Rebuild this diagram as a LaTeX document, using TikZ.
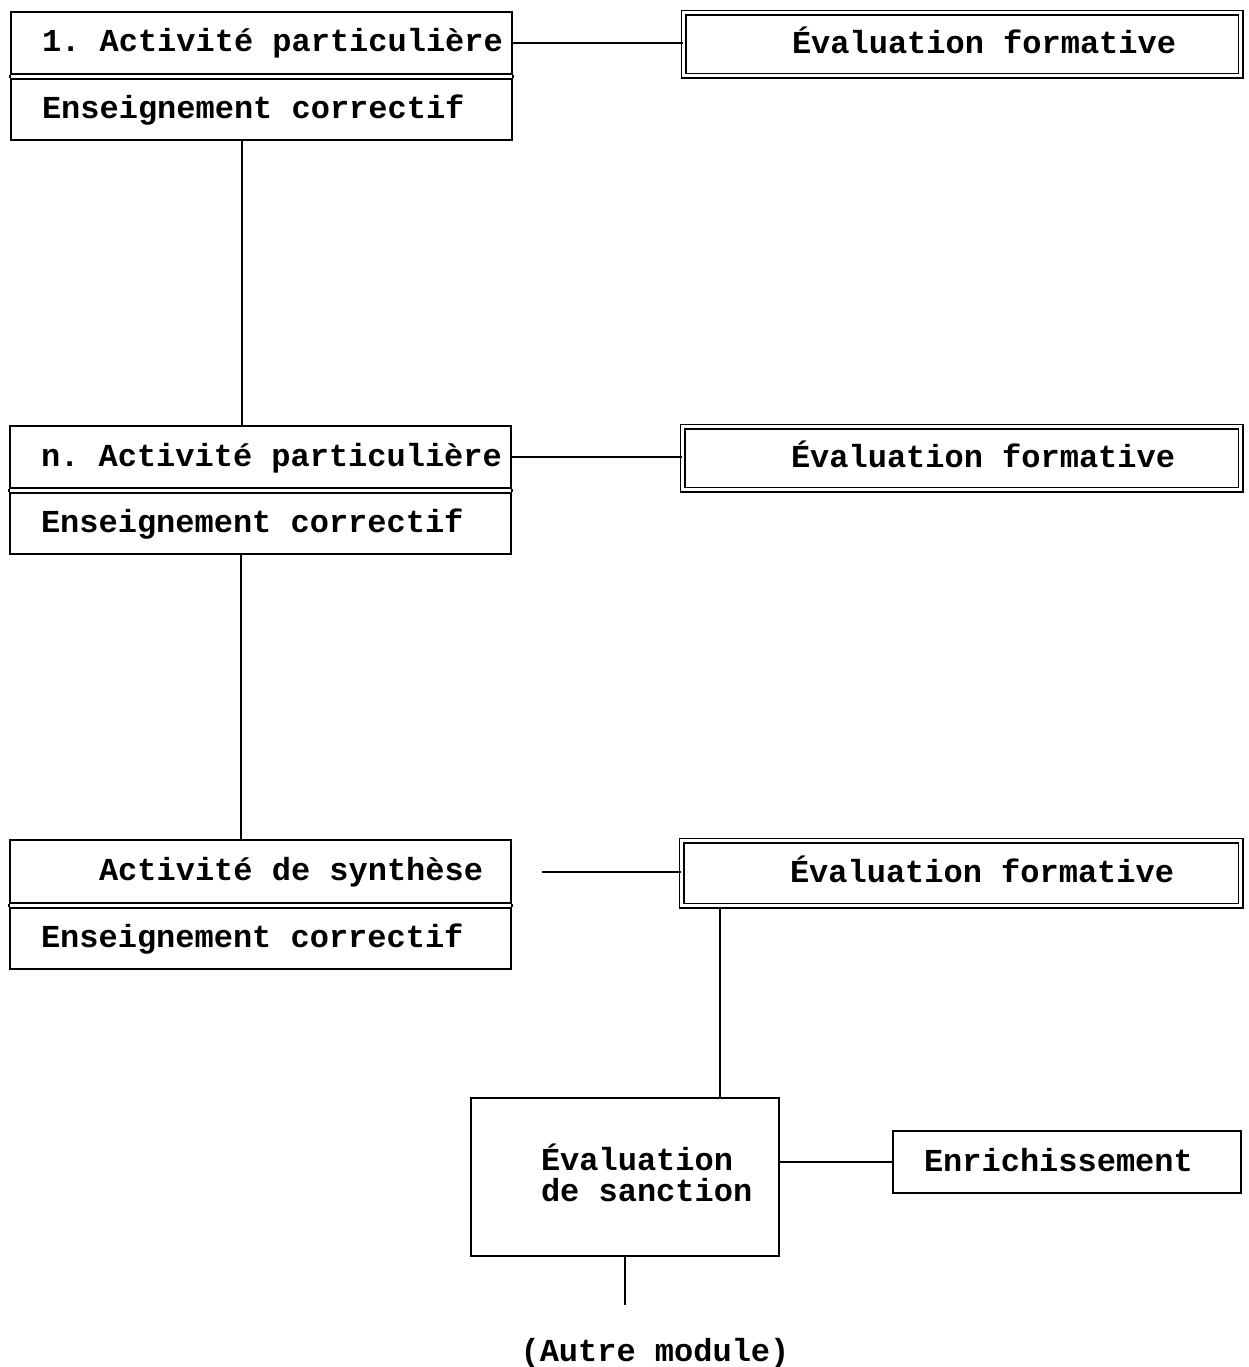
\documentclass[tikz,border=0pt]{standalone}
\usepackage{fontspec}
\setmainfont{Liberation Mono}
\usetikzlibrary{positioning}

\begin{document}
\frenchspacing
\begin{tikzpicture}[x=1pt, y=-1pt, line width=2pt,
    box/.style={draw, anchor=north west, minimum width=501pt, inner sep=0pt},
    dbox/.style={draw, double, double distance=2.6pt, line width=1.5pt, anchor=north west, inner sep=0pt},
    txt/.style={inner sep=0pt, font=\fontsize{32}{31}\selectfont\bfseries, align=left},
    lbl/.style={txt, text height=24pt, text depth=6pt}]
    \useasboundingbox (0,0) rectangle (1249,1367);

    % Activities
    \node[box, minimum height=62pt] (act1) at (10,11) {};
    \node[box, minimum height=61pt] (cor1) at (10,78) {};
    \node[box, minimum height=62pt] (act2) at (9,425) {};
    \node[box, minimum height=61pt] (cor2) at (9,492) {};
    \node[box, minimum height=63pt] (syn) at (9,839) {};
    \node[box, minimum height=61pt] (cor3) at (9,907) {};
    \foreach \a/\c in {act1/cor1, act2/cor2, syn/cor3}
        \draw (\a.south west) -- (\c.north west) (\a.south east) -- (\c.north east);
    \node[lbl, right=31pt of act1.west] (tact1) {1. Activité particulière};
    \node[lbl, right=31pt of cor1.west] (tcor1) {Enseignement correctif};
    \node[lbl, right=31pt of act2.west] (tact2) {n. Activité particulière};
    \node[lbl, right=31pt of cor2.west] (tcor2) {Enseignement correctif};
    \node[lbl, right=89pt of syn.west] (tsyn) {Activité de synthèse};
    \node[lbl, right=31pt of cor3.west] (tcor3) {Enseignement correctif};

    % Formative evaluations
    \node[dbox, minimum width=557pt, minimum height=63pt] (eval1) at (683,12) {};
    \node[dbox, minimum width=558pt, minimum height=63pt] (eval2) at (682,426) {};
    \node[dbox, minimum width=559pt, minimum height=65pt] (eval3) at (681,840) {};
    \foreach \e in {eval1, eval2, eval3}
        \node[lbl, right=108pt of \e.west] (t\e) {Évaluation formative};

    % Sanction
    \node[draw, anchor=north west, minimum width=308pt, minimum height=158pt] (sanc) at (470,1097) {};
    \node[txt, right=70pt of sanc.west, yshift=4pt] (tsanc) {Évaluation\\de sanction};
    \node[draw, anchor=north west, minimum width=348pt, minimum height=62pt] (enr) at (892,1130) {};
    \node[lbl, right=31pt of enr.west] (tenr) {Enrichissement};
    \coordinate (fin) at (624,1305);
    \node[lbl] (autre) at (655,1352) {(Autre module)};

    % Connectors
    \draw (act1.east) -- (act1.east -| eval1.west);
    \draw (act2.east) -- (act2.east -| eval2.west);
    \draw ([xshift=30pt]syn.east) -- (syn.east -| eval3.west);
    \draw ([xshift=-20pt]cor1.south) -- ([xshift=-20pt]cor1.south |- act2.north);
    \draw ([xshift=-20pt]cor2.south) -- ([xshift=-20pt]cor2.south |- syn.north);
    \draw ([xshift=39pt]eval3.south west) -- ([xshift=39pt]eval3.south west |- sanc.north);
    \draw (sanc.east |- enr.west) -- (enr.west);
    \draw (sanc.south) -- (sanc.south |- fin);
\end{tikzpicture}
\end{document}
